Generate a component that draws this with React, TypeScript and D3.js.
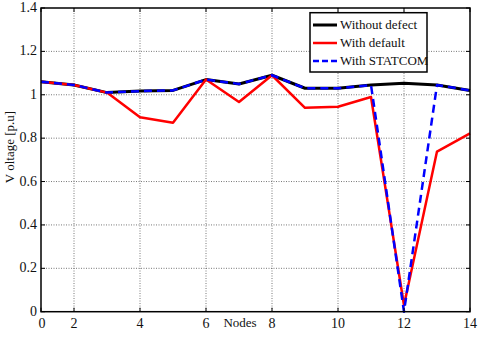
import React from "react";
import * as d3 from "d3";

// node numbers and bus voltages (p.u)
const nodes = [1, 2, 3, 4, 5, 6, 7, 8, 9, 10, 11, 12, 13, 14];
const withoutDefect = [1.06, 1.045, 1.01, 1.017, 1.02, 1.07, 1.05, 1.09, 1.03, 1.03, 1.045, 1.053, 1.045, 1.02];
const withDefault = [1.06, 1.045, 1.01, 0.896, 0.871, 1.07, 0.967, 1.09, 0.94, 0.945, 0.99, 0.03, 0.738, 0.822];
const withStatcom = [1.06, 1.045, 1.01, 1.017, 1.02, 1.07, 1.05, 1.09, 1.03, 1.03, 1.045, 0.0, 1.045, 1.02];

const xTicks = [1, 2, 4, 6, 8, 10, 12, 14];
const xTickLabels = ["0", "2", "4", "6", "8", "10", "12", "14"];
const yTicks = [0, 0.2, 0.4, 0.6, 0.8, 1, 1.2, 1.4];
const legendLabels = ["Without defect", "With default", "With STATCOM"];

const W = 480;
const H = 338;
const left = 41;
const right = 470;
const top = 8;
const bottom = 311.7;
const font = '"Liberation Serif", "DejaVu Serif", serif';

export default function App() {
  const x = d3.scaleLinear().domain([1, 14]).range([left, right]);
  const y = d3.scaleLinear().domain([0, 1.4]).range([bottom, top]);

  const line = d3
    .line<number>()
    .x((_, i) => x(nodes[i]))
    .y((d) => y(d));

  const series = [
    { values: withoutDefect, color: "#000", width: 3, dash: "none" },
    { values: withDefault, color: "#ff0000", width: 2.5, dash: "none" },
    { values: withStatcom, color: "#0000ff", width: 2.5, dash: "8,5" },
  ];

  const txt = { fontFamily: font, fill: "#111" };

  return (
    <svg
      width={W}
      height={H}
      style={{ position: "absolute", left: 0, top: 0, background: "#fff" }}
    >
      {/* grid */}
      {xTicks.slice(1, -1).map((t) => (
        <line key={"gx" + t} x1={x(t)} x2={x(t)} y1={top} y2={bottom}
          stroke="#555" strokeWidth={0.8} strokeDasharray="1,1.5" />
      ))}
      {yTicks.slice(1, -1).map((t) => (
        <line key={"gy" + t} x1={left} x2={right} y1={y(t)} y2={y(t)}
          stroke="#555" strokeWidth={0.8} strokeDasharray="1,1.5" />
      ))}

      {/* series */}
      {series.map((s, i) => (
        <path key={i} d={line(s.values) || ""} fill="none" stroke={s.color}
          strokeWidth={s.width} strokeDasharray={s.dash} strokeLinejoin="round" />
      ))}

      {/* frame */}
      <rect x={left} y={top} width={right - left} height={bottom - top}
        fill="none" stroke="#000" strokeWidth={1.5} />

      {/* ticks */}
      {xTicks.map((t, i) => (
        <g key={"tx" + t}>
          <line x1={x(t)} x2={x(t)} y1={bottom} y2={bottom - 4} stroke="#000" />
          <line x1={x(t)} x2={x(t)} y1={top} y2={top + 4} stroke="#000" />
          <text x={x(t) + (i === 0 ? 1 : 0)} y={bottom + 16} fontSize={14} textAnchor="middle" style={txt}>
            {xTickLabels[i]}
          </text>
        </g>
      ))}
      {yTicks.map((t) => (
        <g key={"ty" + t}>
          <line x1={left} x2={left + 4} y1={y(t)} y2={y(t)} stroke="#000" />
          <line x1={right} x2={right - 4} y1={y(t)} y2={y(t)} stroke="#000" />
          <text x={left - 4} y={y(t) + 4} fontSize={14} textAnchor="end" style={txt}>
            {d3.format("~g")(t)}
          </text>
        </g>
      ))}

      {/* axis titles */}
      <text x={240} y={327} fontSize={13} textAnchor="middle" style={txt}>Nodes</text>
      <text transform="translate(14,147) rotate(-90)" fontSize={13} textAnchor="middle" style={txt}>
        V oltage [p.u]
      </text>

      {/* legend */}
      <rect x={310} y={12.7} width={117} height={59.3} fill="#fff" stroke="#000" strokeWidth={1.5} />
      {series.map((s, i) => (
        <g key={"lg" + i} transform={`translate(313,${25 + i * 18})`}>
          <line x1={0} x2={24} y1={0} y2={0} stroke={s.color} strokeWidth={s.width}
            strokeDasharray={s.dash === "none" ? "none" : "6,3"} />
          <text x={27} y={4} fontSize={13} style={txt}>{legendLabels[i]}</text>
        </g>
      ))}
    </svg>
  );
}
